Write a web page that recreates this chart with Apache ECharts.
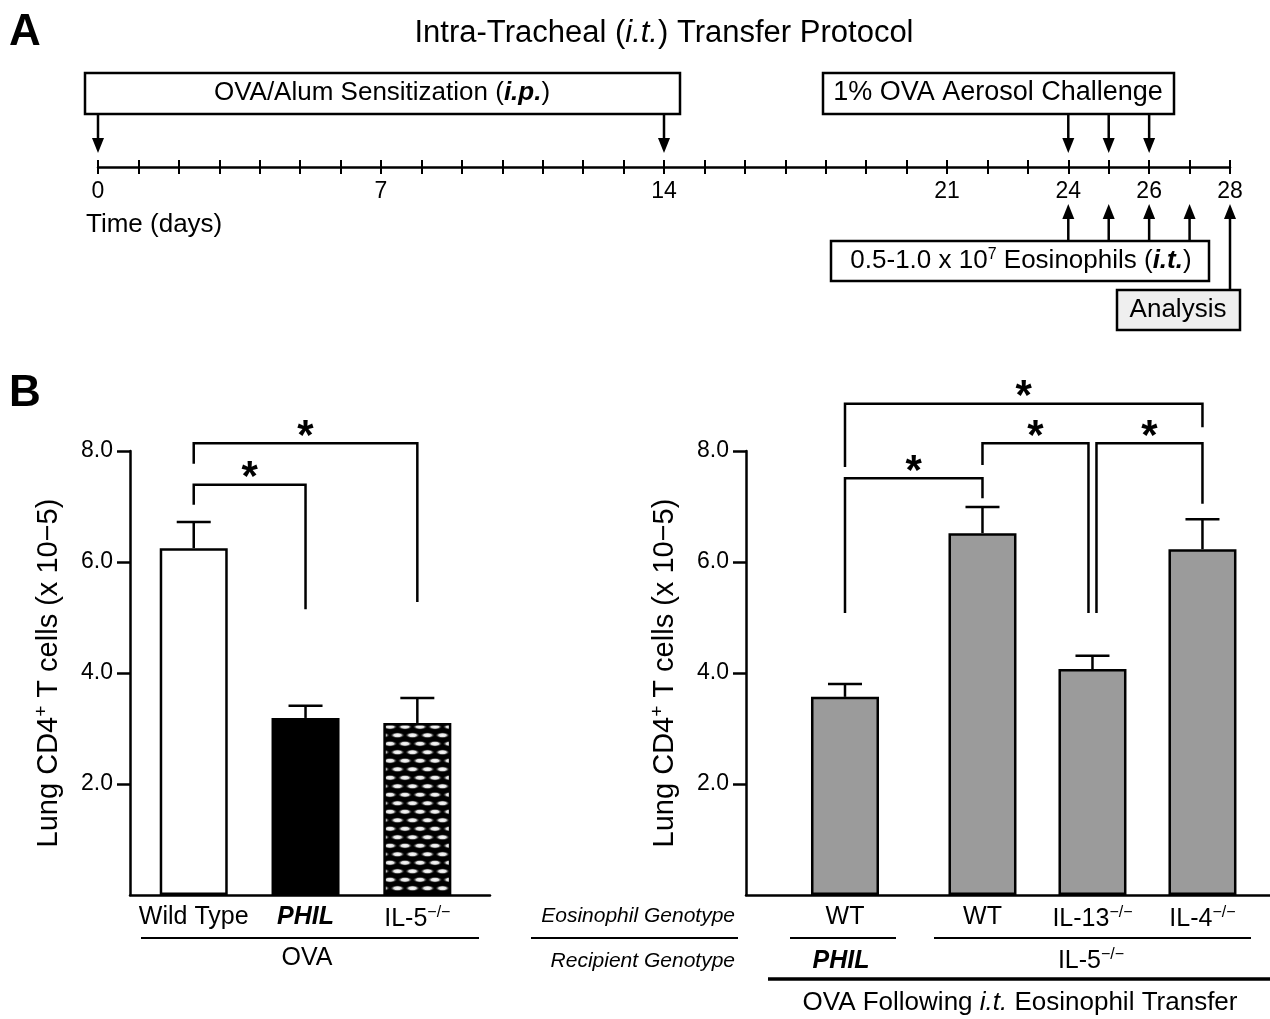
<!DOCTYPE html>
<html>
<head>
<meta charset="utf-8">
<script src="https://cdn.jsdelivr.net/npm/echarts@6/dist/echarts.min.js"></script>
<style>
  html, body { margin: 0; padding: 0; background: #fff; }
  #chart { width: 1270px; height: 1019px; }
</style>
</head>
<body>
<div id="chart"></div>
<script>
// ---- panel A: protocol timeline (days) ----
var dayLabels = [0, 7, 14, 21, 24, 26, 28];
var sensitizationDays = [0, 14];
var challengeDays = [24, 25, 26];
var eosinophilDays = [24, 25, 26, 27];
var analysisDays = [28];

// ---- panel B left: OVA ----
var ovaGroups = ['Wild Type', '{bi|PHIL}', 'IL-5{sup|−/−}'];
var ovaMeans = [6.25, 3.19, 3.10];
var ovaUpper = [6.72, 3.41, 3.55];
// [from bar, to bar, bracket level, from leg end, to leg end]
var ovaBrackets = [
  [0, 1, 7.39, 7.03, 5.15],
  [0, 2, 8.14, 7.77, 5.28]
];

// ---- panel B right: i.t. transfer ----
var transferGroups = ['WT', 'WT', 'IL-13{sup|−/−}', 'IL-4{sup|−/−}'];
var recipientGenotype = ['PHIL', 'IL-5', 'IL-5', 'IL-5'];
var transferMeans = [3.57, 6.52, 4.07, 6.23];
var transferUpper = [3.80, 6.99, 4.31, 6.77];
var transferBrackets = [
  [0, 1, 7.51, 5.08, 7.15],
  [0, 3, 8.85, 7.71, 8.43],
  [1, 2, 8.14, 7.75, 5.08],
  [2, 3, 8.14, 5.08, 7.05]
];

var yTicks = [2, 4, 6, 8];

var FONT = 'Liberation Sans, Arial, Helvetica, sans-serif';
var LW = 2.5;

// slot positions: bars next to each other, extra gap when recipient changes
var ovaSlots = ovaGroups.map(function (g, i) { return i; });
var transferSlots = [];
recipientGenotype.forEach(function (r, i) {
  var prev = i ? transferSlots[i - 1] : -1.25;
  transferSlots.push(prev + (i && r === recipientGenotype[i - 1] ? 1 : 1.25));
});

function makePattern() {
  var c = document.createElement('canvas');
  c.width = 15; c.height = 17;
  var g = c.getContext('2d');
  g.fillStyle = '#000';
  g.fillRect(0, 0, 15, 17);
  [[7.5, 4.25], [0, 12.75], [15, 12.75], [7.5, 21.25], [7.5, -4.25]].forEach(function (p) {
    g.save();
    g.translate(p[0], p[1]);
    g.scale(1, 0.42);
    var rg = g.createRadialGradient(0, 0, 0, 0, 0, 7.5);
    rg.addColorStop(0, '#fff');
    rg.addColorStop(0.5, '#e0e0e0');
    rg.addColorStop(1, 'rgba(0,0,0,0)');
    g.fillStyle = rg;
    g.beginPath();
    g.arc(0, 0, 7.5, 0, Math.PI * 2);
    g.fill();
    g.restore();
  });
  return c;
}

var ovaFills = ['#fff', '#000', { image: makePattern(), repeat: 'repeat' }];

var richText = {
  bi: { fontFamily: FONT, fontSize: 25, fontWeight: 'bold', fontStyle: 'italic', color: '#000' },
  i: { fontFamily: FONT, fontSize: 26, fontStyle: 'italic', color: '#000' },
  bi26: { fontFamily: FONT, fontSize: 26, fontWeight: 'bold', fontStyle: 'italic', color: '#000' },
  sup: { fontFamily: FONT, fontSize: 16, color: '#000', padding: [0, 0, 13, 0] }
};

function errRender(params, api) {
  var lo = api.coord([api.value(0), api.value(1)]);
  var hi = api.coord([api.value(0), api.value(2)]);
  return {
    type: 'group',
    children: [
      { type: 'line', shape: { x1: lo[0], y1: lo[1], x2: hi[0], y2: hi[1] }, style: { stroke: '#000', lineWidth: LW } },
      { type: 'line', shape: { x1: hi[0] - 17, y1: hi[1], x2: hi[0] + 17, y2: hi[1] }, style: { stroke: '#000', lineWidth: LW } }
    ]
  };
}

function bracketRender(slots, list) {
  return function (params, api) {
    var a = api.value(0), b = api.value(1), lvl = api.value(2);
    // legs that share a bar at the same level are pulled apart a little
    var na = 0, nb = 0;
    list.forEach(function (o) {
      if (o[1] === a && o[2] === lvl) na = 4;
      if (o[0] === b && o[2] === lvl) nb = -4;
    });
    var pa = api.coord([slots[a], lvl]);
    var pb = api.coord([slots[b], lvl]);
    var ea = api.coord([slots[a], api.value(3)]);
    var eb = api.coord([slots[b], api.value(4)]);
    var xa = pa[0] + na, xb = pb[0] + nb;
    return {
      type: 'group',
      children: [
        { type: 'polyline', shape: { points: [[xa, ea[1]], [xa, pa[1]], [xb, pb[1]], [xb, eb[1]]] },
          style: { stroke: '#000', lineWidth: LW, fill: null } },
        { type: 'text', x: (xa + xb) / 2, y: pa[1] - 6,
          style: { text: '*', fontFamily: FONT, fontSize: 42, fontWeight: 'bold', fill: '#000',
                   align: 'center', verticalAlign: 'middle' } }
      ]
    };
  };
}

function arrowRender(params, api) {
  var p = api.coord([api.value(0), 0]);
  var kind = api.value(1);
  var x = p[0], y0 = p[1];
  var tail, tip, dir;
  if (kind === 0) { tail = y0 - 53; tip = y0 - 14; dir = 1; }
  else if (kind === 1) { tail = y0 + 74; tip = y0 + 37; dir = -1; }
  else { tail = y0 + 123; tip = y0 + 37; dir = -1; }
  var base = tip - dir * 15;
  return {
    type: 'group',
    children: [
      { type: 'line', shape: { x1: x, y1: tail, x2: x, y2: base }, style: { stroke: '#000', lineWidth: LW } },
      { type: 'polygon', shape: { points: [[x - 6, base], [x + 6, base], [x, tip]] }, style: { fill: '#000' } }
    ]
  };
}

function yAxisFor(gridIndex) {
  return {
    type: 'value', gridIndex: gridIndex, min: 0, max: 8, interval: 2,
    name: 'Lung CD4{sup|+} T cells (x 10−5)',
    nameLocation: 'middle', nameGap: 64, nameRotate: 90,
    nameTextStyle: {
      fontFamily: FONT, fontSize: 29, color: '#000',
      rich: { sup: { fontFamily: FONT, fontSize: 19, color: '#000', padding: [0, 0, 15, 0] } }
    },
    axisLine: { show: true, onZero: false, lineStyle: { color: '#000', width: LW } },
    axisTick: { show: true, length: 13, customValues: yTicks, lineStyle: { color: '#000', width: LW } },
    axisLabel: { customValues: yTicks, fontFamily: FONT, fontSize: 23, color: '#000', margin: 17,
                 formatter: function (v) { return v.toFixed(1); } },
    splitLine: { show: false }
  };
}

function catAxisFor(gridIndex, min, max, slots, names) {
  return {
    type: 'value', gridIndex: gridIndex, min: min, max: max,
    axisLine: { show: true, onZero: false, lineStyle: { color: '#000', width: LW } },
    axisTick: { show: false },
    splitLine: { show: false },
    axisLabel: {
      customValues: slots, margin: 10, fontFamily: FONT, fontSize: 25, color: '#000',
      rich: richText,
      formatter: function (v) {
        var i = slots.indexOf(v);
        return i < 0 ? '' : names[i];
      }
    }
  };
}

var chart = echarts.init(document.getElementById('chart'));

var graphics = [
  { type: 'text', x: 9, y: 11, style: { text: 'A', fontFamily: FONT, fontSize: 44, fontWeight: 'bold', fill: '#000' } },
  { type: 'text', x: 9, y: 372, style: { text: 'B', fontFamily: FONT, fontSize: 44, fontWeight: 'bold', fill: '#000' } },
  { type: 'text', x: 664, y: 33, style: { text: 'Intra-Tracheal ({i|i.t.}) Transfer Protocol', fontFamily: FONT, fontSize: 31,
    fill: '#000', align: 'center', verticalAlign: 'middle', rich: { i: { fontFamily: FONT, fontSize: 31, fontStyle: 'italic', fill: '#000' } } } },
  { type: 'text', x: 86, y: 225, style: { text: 'Time (days)', fontFamily: FONT, fontSize: 26, fill: '#000', verticalAlign: 'middle' } },

  { type: 'rect', shape: { x: 85, y: 73, width: 595, height: 41 }, style: { fill: '#fff', stroke: '#000', lineWidth: LW } },
  { type: 'text', x: 382, y: 93, style: { text: 'OVA/Alum Sensitization ({bi26|i.p.})', fontFamily: FONT, fontSize: 26, fill: '#000',
    align: 'center', verticalAlign: 'middle', rich: richText } },
  { type: 'rect', shape: { x: 823, y: 73, width: 351, height: 41 }, style: { fill: '#fff', stroke: '#000', lineWidth: LW } },
  { type: 'text', x: 998, y: 93, style: { text: '1% OVA Aerosol Challenge', fontFamily: FONT, fontSize: 27, fill: '#000',
    align: 'center', verticalAlign: 'middle' } },
  { type: 'rect', shape: { x: 831, y: 241, width: 378, height: 40 }, style: { fill: '#fff', stroke: '#000', lineWidth: LW } },
  { type: 'text', x: 1021, y: 261, style: { text: '0.5-1.0 x 10{sup|7} Eosinophils ({bi26|i.t.})', fontFamily: FONT, fontSize: 26, fill: '#000',
    align: 'center', verticalAlign: 'middle', rich: richText } },
  { type: 'rect', z: 1, shape: { x: 1117, y: 290, width: 123, height: 40 }, style: { fill: '#efefef', stroke: '#000', lineWidth: LW } },
  { type: 'text', z: 2, x: 1178, y: 310, style: { text: 'Analysis', fontFamily: FONT, fontSize: 26, fill: '#000',
    align: 'center', verticalAlign: 'middle' } },

  // left group labels
  { type: 'line', shape: { x1: 141, y1: 938, x2: 479, y2: 938 }, style: { stroke: '#000', lineWidth: 2 } },
  { type: 'text', x: 307, y: 958, style: { text: 'OVA', fontFamily: FONT, fontSize: 25, fill: '#000', align: 'center', verticalAlign: 'middle' } },

  // right group labels
  { type: 'text', x: 735, y: 916, style: { text: 'Eosinophil Genotype', fontFamily: FONT, fontSize: 21, fontStyle: 'italic', fill: '#000',
    align: 'right', verticalAlign: 'middle' } },
  { type: 'line', shape: { x1: 531, y1: 938, x2: 738, y2: 938 }, style: { stroke: '#000', lineWidth: 2 } },
  { type: 'line', shape: { x1: 790, y1: 938, x2: 896, y2: 938 }, style: { stroke: '#000', lineWidth: 2 } },
  { type: 'line', shape: { x1: 934, y1: 938, x2: 1251, y2: 938 }, style: { stroke: '#000', lineWidth: 2 } },
  { type: 'text', x: 735, y: 961, style: { text: 'Recipient Genotype', fontFamily: FONT, fontSize: 21, fontStyle: 'italic', fill: '#000',
    align: 'right', verticalAlign: 'middle' } },
  { type: 'text', x: 841, y: 961, style: { text: '{bi|PHIL}', fontFamily: FONT, fontSize: 25, fill: '#000',
    align: 'center', verticalAlign: 'middle', rich: richText } },
  { type: 'text', x: 1091, y: 961, style: { text: 'IL-5{sup|−/−}', fontFamily: FONT, fontSize: 25, fill: '#000',
    align: 'center', verticalAlign: 'middle', rich: richText } },
  { type: 'line', shape: { x1: 768, y1: 979, x2: 1270, y2: 979 }, style: { stroke: '#000', lineWidth: 3.5 } },
  { type: 'text', x: 1020, y: 1003, style: { text: 'OVA Following {i|i.t.} Eosinophil Transfer', fontFamily: FONT, fontSize: 26, fill: '#000',
    align: 'center', verticalAlign: 'middle', rich: richText } }
];

var option = {
  animation: false,
  backgroundColor: '#fff',
  textStyle: { fontFamily: FONT, color: '#000' },
  grid: [
    { left: 98, top: 60, width: 1132, height: 107 },
    { left: 130, top: 451, width: 360, height: 444 },
    { left: 746, top: 451, width: 524, height: 444 }
  ],
  xAxis: [
    { type: 'value', gridIndex: 0, min: 0, max: 28, interval: 1,
      axisLine: { show: true, lineStyle: { color: '#000', width: LW } },
      axisTick: { show: true, length: 7, lineStyle: { color: '#000', width: 2 } },
      axisLabel: { customValues: dayLabels, fontFamily: FONT, fontSize: 23, color: '#000', margin: 13 },
      splitLine: { show: false } },
    { type: 'value', gridIndex: 0, min: 0, max: 28, interval: 1, position: 'bottom',
      axisLine: { show: false },
      axisTick: { show: true, inside: true, length: 7, lineStyle: { color: '#000', width: 2 } },
      axisLabel: { show: false },
      splitLine: { show: false } },
    catAxisFor(1, -0.57, 2.65, ovaSlots, ovaGroups),
    catAxisFor(2, -0.9, 3.864, transferSlots, transferGroups)
  ],
  yAxis: [
    { type: 'value', gridIndex: 0, min: 0, max: 1, show: false },
    yAxisFor(1),
    yAxisFor(2)
  ],
  graphic: graphics,
  series: [
    { type: 'custom', xAxisIndex: 0, yAxisIndex: 0, clip: false, renderItem: arrowRender,
      data: sensitizationDays.map(function (d) { return [d, 0]; })
        .concat(challengeDays.map(function (d) { return [d, 0]; }))
        .concat(eosinophilDays.map(function (d) { return [d, 1]; }))
        .concat(analysisDays.map(function (d) { return [d, 2]; })), z: 5 },

    { type: 'bar', xAxisIndex: 2, yAxisIndex: 1, barWidth: 68, z: 2,
      data: ovaMeans.map(function (v, i) {
        return { value: [ovaSlots[i], v], itemStyle: { color: ovaFills[i], borderColor: '#000', borderWidth: LW } };
      }) },
    { type: 'custom', xAxisIndex: 2, yAxisIndex: 1, clip: false, renderItem: errRender, z: 1,
      data: ovaMeans.map(function (v, i) { return [ovaSlots[i], v, ovaUpper[i]]; }) },
    { type: 'custom', xAxisIndex: 2, yAxisIndex: 1, clip: false, renderItem: bracketRender(ovaSlots, ovaBrackets),
      encode: { x: [0, 1], y: [2, 3, 4] }, data: ovaBrackets },

    { type: 'bar', xAxisIndex: 3, yAxisIndex: 2, barWidth: 68, z: 2,
      itemStyle: { color: '#9b9b9b', borderColor: '#000', borderWidth: LW },
      data: transferMeans.map(function (v, i) { return [transferSlots[i], v]; }) },
    { type: 'custom', xAxisIndex: 3, yAxisIndex: 2, clip: false, renderItem: errRender, z: 1,
      data: transferMeans.map(function (v, i) { return [transferSlots[i], v, transferUpper[i]]; }) },
    { type: 'custom', xAxisIndex: 3, yAxisIndex: 2, clip: false, renderItem: bracketRender(transferSlots, transferBrackets),
      encode: { x: [0, 1], y: [2, 3, 4] }, data: transferBrackets }
  ]
};

chart.setOption(option);
</script>
</body>
</html>
